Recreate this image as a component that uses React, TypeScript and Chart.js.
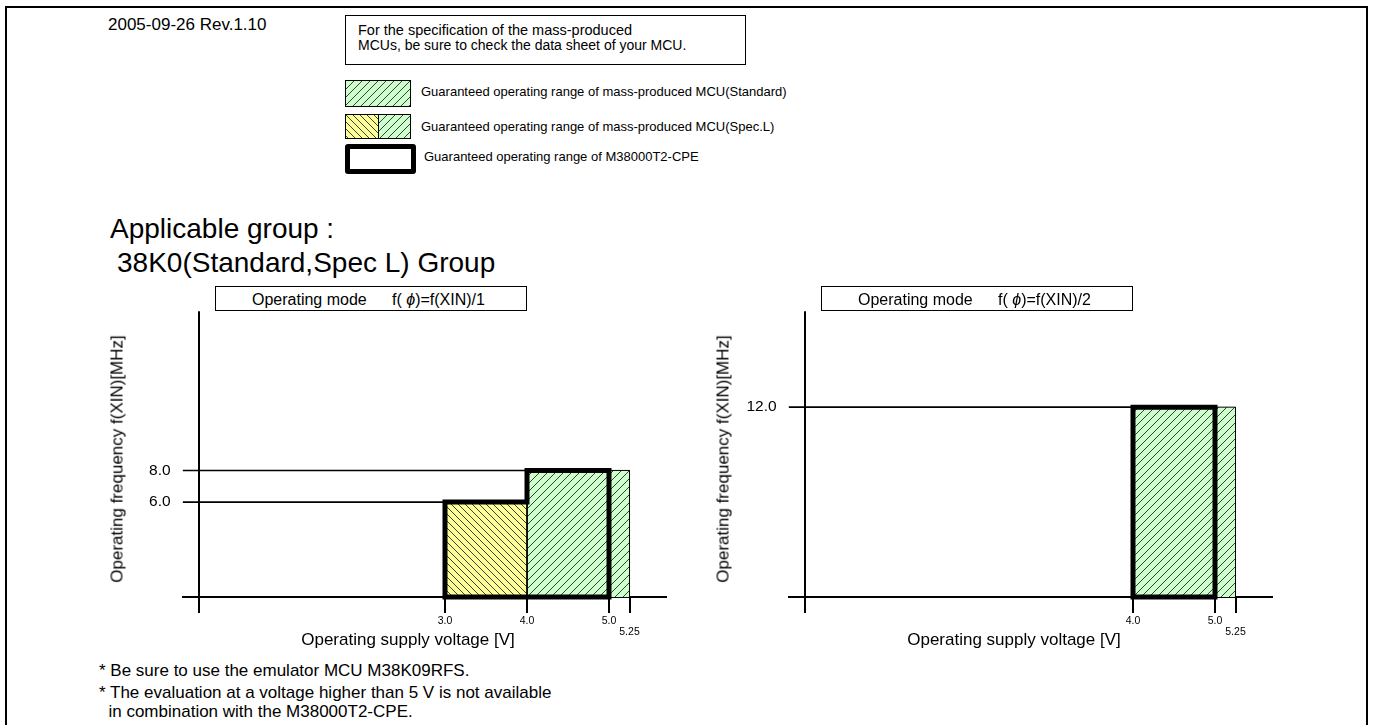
import React, { useEffect, useMemo, useRef } from 'react';
import { Chart, registerables } from 'chart.js';

Chart.register(...registerables);

const FONT = '"Liberation Sans", Arial, Helvetica, sans-serif';
const GREEN = '#ccffcc';
const YELLOW = '#ffff99';

// ---- shared axis ranges ----
const voltageAxisMin = -0.2;
const voltageAxisMax = 5.7;
const voltageAxisOrigin = 0;
const freqAxisMin = 0;
const freqAxisMax = 18.06;

// ---- chart 1 : f(phi) = f(XIN)/1 ----
const c1VoltageTicks = [3.0, 4.0, 5.0, 5.25];
const c1VoltageLabels = ['3.0', '4.0', '5.0', '5.25'];
const c1FreqTicks = [6.0, 8.0];
const c1FreqLabels = ['6.0', '8.0'];
const c1GuideEndVoltage = [3.0, 4.0];
const c1StandardVoltage = [4.0, 5.25];
const c1StandardFreq = 8.0;
const c1SpecLVoltage = [3.0, 4.0];
const c1SpecLFreq = 6.0;
const c1CpeVoltage = [3.0, 4.0, 5.0];
const c1CpeFreq = [6.0, 8.0];

// ---- chart 2 : f(phi) = f(XIN)/2 ----
const c2VoltageTicks = [4.0, 5.0, 5.25];
const c2VoltageLabels = ['4.0', '5.0', '5.25'];
const c2FreqTicks = [12.0];
const c2FreqLabels = ['12.0'];
const c2GuideEndVoltage = [4.0];
const c2StandardVoltage = [4.0, 5.25];
const c2StandardFreq = 12.0;
const c2CpeVoltage = [4.0, 5.0];
const c2CpeFreq = [12.0];

type Spec = {
  voltageTicks: number[];
  voltageLabels: string[];
  freqTicks: number[];
  freqLabels: string[];
  guideEnd: number[];
  stdVoltage: number[];
  stdFreq: number;
  specLVoltage?: number[];
  specLFreq?: number;
  cpeVoltage: number[];
  cpeFreq: number[];
};

const spec1: Spec = {
  voltageTicks: c1VoltageTicks,
  voltageLabels: c1VoltageLabels,
  freqTicks: c1FreqTicks,
  freqLabels: c1FreqLabels,
  guideEnd: c1GuideEndVoltage,
  stdVoltage: c1StandardVoltage,
  stdFreq: c1StandardFreq,
  specLVoltage: c1SpecLVoltage,
  specLFreq: c1SpecLFreq,
  cpeVoltage: c1CpeVoltage,
  cpeFreq: c1CpeFreq,
};

const spec2: Spec = {
  voltageTicks: c2VoltageTicks,
  voltageLabels: c2VoltageLabels,
  freqTicks: c2FreqTicks,
  freqLabels: c2FreqLabels,
  guideEnd: c2GuideEndVoltage,
  stdVoltage: c2StandardVoltage,
  stdFreq: c2StandardFreq,
  cpeVoltage: c2CpeVoltage,
  cpeFreq: c2CpeFreq,
};

function makeHatch(bg: string, dir: 'fwd' | 'back', size = 8): HTMLCanvasElement {
  const c = document.createElement('canvas');
  c.width = size;
  c.height = size;
  const g = c.getContext('2d')!;
  g.fillStyle = bg;
  g.fillRect(0, 0, size, size);
  g.strokeStyle = '#2a2a2a';
  g.lineWidth = 0.9;
  g.beginPath();
  if (dir === 'fwd') {
    g.moveTo(-1, size + 1); g.lineTo(size + 1, -1);
    g.moveTo(-1, 1); g.lineTo(1, -1);
    g.moveTo(size - 1, size + 1); g.lineTo(size + 1, size - 1);
  } else {
    g.moveTo(-1, -1); g.lineTo(size + 1, size + 1);
    g.moveTo(size - 1, -1); g.lineTo(size + 1, 1);
    g.moveTo(-1, size - 1); g.lineTo(1, size + 1);
  }
  g.stroke();
  return c;
}

function rectPoints(v: number[], f: number) {
  return [
    { x: v[0], y: 0 },
    { x: v[0], y: f },
    { x: v[1], y: f },
    { x: v[1], y: 0 },
  ];
}

function stepOutline(v: number[], f: number[]) {
  const vStart = v[0];
  const vEnd = v[v.length - 1];
  const mid = (vStart + vEnd) / 2;
  const pts = [{ x: mid, y: 0 }, { x: vEnd, y: 0 }];
  for (let i = f.length - 1; i >= 0; i--) {
    pts.push({ x: v[i + 1], y: f[i] });
    pts.push({ x: v[i], y: f[i] });
  }
  pts.push({ x: vStart, y: 0 }, { x: mid, y: 0 });
  return pts;
}

const CW = 600;
const CH = 350;

function RangeChart({ spec, left, top }: { spec: Spec; left: number; top: number }) {
  const ref = useRef<HTMLCanvasElement>(null);
  useEffect(() => {
    const canvas = ref.current!;
    const ctx = canvas.getContext('2d')!;
    const green = ctx.createPattern(makeHatch(GREEN, 'fwd', 8), 'repeat')!;
    const yellow = ctx.createPattern(makeHatch(YELLOW, 'back', 7), 'repeat')!;
    const datasets: any[] = [];
    datasets.push({
      data: stepOutline(spec.cpeVoltage, spec.cpeFreq),
      borderColor: '#000',
      borderWidth: 5,
      borderJoinStyle: 'miter',
      borderCapStyle: 'butt',
      fill: false,
      clip: false,
      pointRadius: 0,
    });
    spec.freqTicks.forEach((f, i) => {
      datasets.push({
        data: [{ x: voltageAxisMin, y: f }, { x: spec.guideEnd[i], y: f }],
        borderColor: '#000',
        borderWidth: 1.6,
        fill: false,
        pointRadius: 0,
      });
    });
    if (spec.specLVoltage && spec.specLFreq !== undefined) {
      datasets.push({
        data: rectPoints(spec.specLVoltage, spec.specLFreq),
        borderColor: '#000',
        borderWidth: 1,
        backgroundColor: yellow,
        fill: 'origin',
        pointRadius: 0,
      });
    }
    datasets.push({
      data: rectPoints(spec.stdVoltage, spec.stdFreq),
      borderColor: '#000',
      borderWidth: 1,
      backgroundColor: green,
      fill: 'origin',
      pointRadius: 0,
    });

    const xTickValues = [voltageAxisOrigin, ...spec.voltageTicks];

    const chart = new Chart(canvas, {
      type: 'line',
      data: { datasets },
      options: {
        animation: false,
        responsive: false,
        events: [],
        layout: { padding: { left: 0, top: 12, right: 23.6, bottom: 0 } },
        plugins: {
          legend: { display: false },
          tooltip: { enabled: false },
          title: { display: false },
        },
        elements: { point: { radius: 0 }, line: { tension: 0 } },
        scales: {
          x: {
            type: 'linear',
            position: 'bottom',
            min: voltageAxisMin,
            max: voltageAxisMax,
            afterBuildTicks: (s: any) => {
              s.ticks = xTickValues.map((v) => ({ value: v }));
            },
            afterFit: (s: any) => {
              s.height = 43;
            },
            ticks: {
              autoSkip: false,
              maxRotation: 0,
              minRotation: 0,
              padding: 3,
              color: '#000',
              font: { family: FONT, size: 10.5, lineHeight: 1 },
              callback: (_v: any, i: number) => {
                if (i === 0) return '';
                const label = spec.voltageLabels[i - 1];
                const prev = i >= 2 ? spec.voltageTicks[i - 2] : -Infinity;
                return spec.voltageTicks[i - 1] - prev < 0.5 ? ['', label] : label;
              },
            },
            grid: {
              display: true,
              drawOnChartArea: true,
              drawTicks: true,
              tickLength: 16,
              lineWidth: 2,
              color: (c: any) =>
                c.tick && c.tick.value === voltageAxisOrigin ? '#000' : 'rgba(0,0,0,0)',
              tickColor: '#000',
              tickWidth: 2,
            },
            border: { display: true, color: '#000', width: 2 },
          },
          y: {
            type: 'linear',
            position: 'left',
            min: freqAxisMin,
            max: freqAxisMax,
            afterBuildTicks: (s: any) => {
              s.ticks = spec.freqTicks.map((v) => ({ value: v }));
            },
            afterFit: (s: any) => {
              s.width = 92.6;
            },
            ticks: {
              padding: 12,
              color: '#000',
              font: { family: FONT, size: 15.5 },
              callback: (_v: any, i: number) => spec.freqLabels[i],
            },
            grid: { display: false, drawTicks: false },
            border: { display: false },
          },
        },
      } as any,
    });
    return () => chart.destroy();
  }, [spec]);
  return (
    <canvas
      ref={ref}
      width={CW}
      height={CH}
      style={{ position: 'absolute', left, top, width: CW, height: CH }}
    />
  );
}

function Txt({ x, cy, fs, children, style }: any) {
  return (
    <div
      style={{
        position: 'absolute',
        left: x,
        top: cy - fs * 0.49,
        fontSize: fs,
        lineHeight: `${fs}px`,
        fontFamily: FONT,
        whiteSpace: 'pre',
        color: '#000',
        ...style,
      }}
    >
      {children}
    </div>
  );
}

function CTxt({ cx, cy, fs, children, rotate }: any) {
  return (
    <div
      style={{
        position: 'absolute',
        left: cx,
        top: cy,
        transform: rotate ? 'translate(-50%, -50%) rotate(-90deg)' : 'translate(-50%, -50%)',
        fontSize: fs,
        lineHeight: `${fs}px`,
        fontFamily: FONT,
        whiteSpace: 'pre',
        color: '#000',
      }}
    >
      {children}
    </div>
  );
}

function ModeBox({ left, label }: { left: number; label: string }) {
  return (
    <>
      <div
        style={{
          position: 'absolute',
          left,
          top: 286,
          width: 312,
          height: 25,
          boxSizing: 'border-box',
          border: '1.5px solid #000',
          background: '#fff',
        }}
      />
      <Txt x={left + 37} cy={300} fs={16}>Operating mode</Txt>
      <Txt x={left + 177} cy={300} fs={16}>
        {'f( '}
        <i>ϕ</i>
        {label}
      </Txt>
    </>
  );
}

export default function App() {
  const greenUrl = useMemo(() => makeHatch(GREEN, 'fwd', 8).toDataURL(), []);
  const yellowUrl = useMemo(() => makeHatch(YELLOW, 'back', 7).toDataURL(), []);
  return (
    <div
      style={{
        position: 'absolute',
        left: 0,
        top: 0,
        width: 1373,
        height: 725,
        overflow: 'hidden',
        background: '#fff',
        fontFamily: FONT,
      }}
    >
      {/* page frame */}
      <div
        style={{
          position: 'absolute',
          left: 5,
          top: 6,
          width: 1363,
          height: 780,
          boxSizing: 'border-box',
          border: '2px solid #000',
        }}
      />

      <Txt x={108} cy={24} fs={17}>2005-09-26 Rev.1.10</Txt>

      {/* notice box */}
      <div
        style={{
          position: 'absolute',
          left: 345,
          top: 15,
          width: 401,
          height: 50,
          boxSizing: 'border-box',
          border: '1.5px solid #000',
        }}
      />
      <Txt x={358} cy={30} fs={14.5}>For the specification of the mass-produced</Txt>
      <Txt x={358} cy={45} fs={14}>MCUs, be sure to check the data sheet of your MCU.</Txt>

      {/* legend */}
      <div
        style={{
          position: 'absolute',
          left: 345,
          top: 80,
          width: 66,
          height: 27,
          boxSizing: 'border-box',
          border: '1px solid #000',
          backgroundImage: `url(${greenUrl})`,
        }}
      />
      <Txt x={421} cy={91} fs={13}>Guaranteed operating range of mass-produced MCU(Standard)</Txt>
      <div
        style={{
          position: 'absolute',
          left: 345,
          top: 114,
          width: 66,
          height: 25,
          boxSizing: 'border-box',
          border: '1px solid #000',
          display: 'flex',
        }}
      >
        <div style={{ width: 32, height: '100%', backgroundImage: `url(${yellowUrl})`, borderRight: '1px solid #000' }} />
        <div style={{ flex: 1, height: '100%', backgroundImage: `url(${greenUrl})` }} />
      </div>
      <Txt x={421} cy={126} fs={13}>Guaranteed operating range of mass-produced MCU(Spec.L)</Txt>
      <div
        style={{
          position: 'absolute',
          left: 345,
          top: 144,
          width: 71,
          height: 30,
          boxSizing: 'border-box',
          border: '5px solid #000',
          borderRadius: 3,
          background: '#fff',
        }}
      />
      <Txt x={424} cy={156} fs={13}>Guaranteed operating range of M38000T2-CPE</Txt>

      {/* heading */}
      <Txt x={110} cy={229} fs={28}>Applicable group :</Txt>
      <Txt x={117} cy={263} fs={28}>38K0(Standard,Spec L) Group</Txt>

      {/* charts */}
      <RangeChart spec={spec1} left={90} top={290} />
      <RangeChart spec={spec2} left={696} top={290} />

      <ModeBox left={215} label={')=f(XIN)/1'} />
      <ModeBox left={821} label={')=f(XIN)/2'} />

      <CTxt cx={117} cy={459} fs={17} rotate>Operating frequency f(XIN)[MHz]</CTxt>
      <CTxt cx={723} cy={459} fs={17} rotate>Operating frequency f(XIN)[MHz]</CTxt>
      <CTxt cx={408} cy={639} fs={17}>Operating supply voltage [V]</CTxt>
      <CTxt cx={1014} cy={639} fs={17}>Operating supply voltage [V]</CTxt>

      {/* notes */}
      <Txt x={99} cy={670} fs={17}>* Be sure to use the emulator MCU M38K09RFS.</Txt>
      <Txt x={99} cy={692} fs={17}>* The evaluation at a voltage higher than 5 V is not available</Txt>
      <Txt x={99} cy={711} fs={17}>{'  in combination with the M38000T2-CPE.'}</Txt>
    </div>
  );
}
